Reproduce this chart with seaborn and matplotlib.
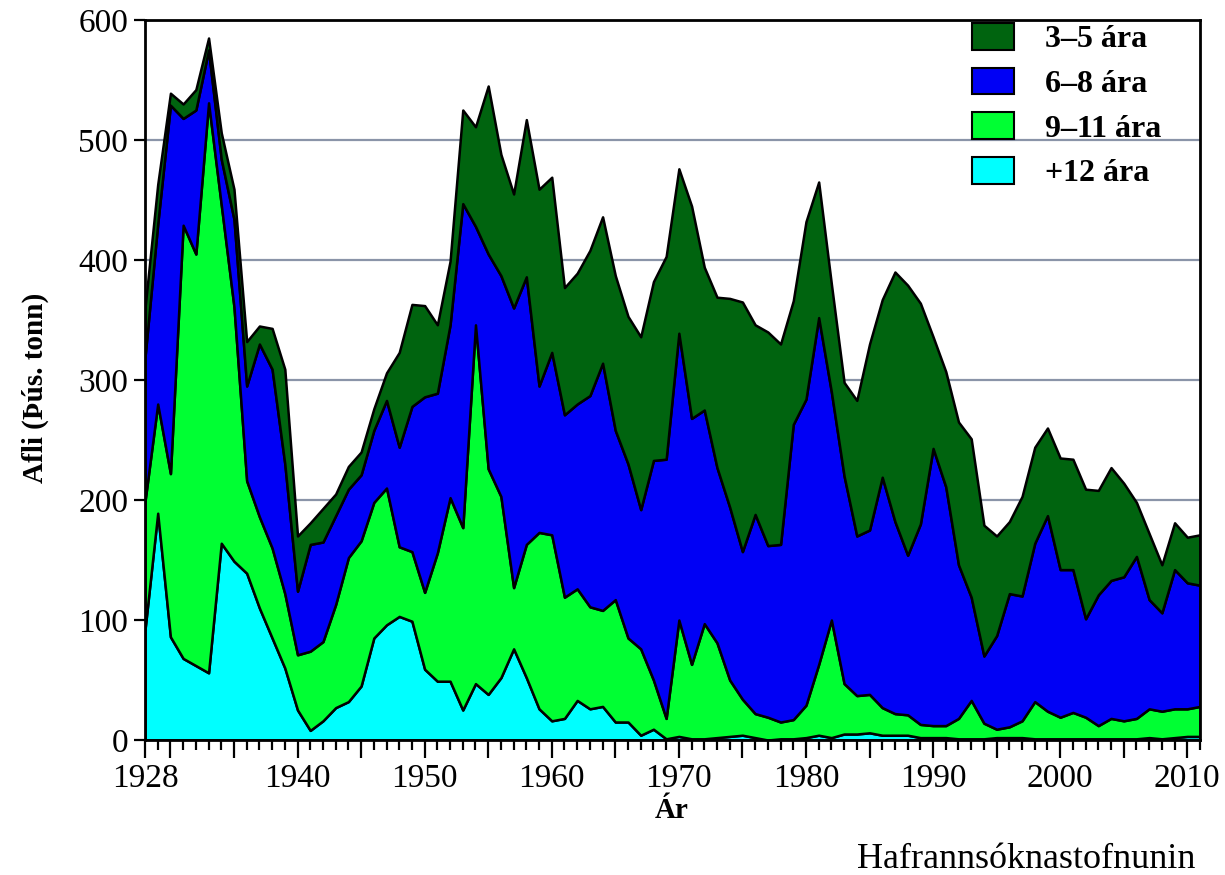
import matplotlib
matplotlib.use("Agg")
import matplotlib.pyplot as plt
from matplotlib.patches import Patch
from matplotlib.ticker import MultipleLocator, FixedLocator
import seaborn as sns

# Afli eftir aldursflokkum (þús. tonn), lesið af myndinni
years = list(range(1928, 2012))

plus12 = [92, 189, 86, 68, 62, 56, 164, 149, 139, 110, 85, 60, 25, 8, 16, 27, 32, 45, 85, 96,
          103, 99, 59, 49, 49, 25, 47, 38, 52, 76, 52, 26, 16, 18, 33, 26, 28, 15, 15, 4,
          9, 1, 3, 1, 1, 2, 3, 4, 2, 0, 1, 1, 2, 4, 2, 5, 5, 6, 4, 4,
          4, 2, 2, 2, 1, 1, 1, 2, 2, 2, 1, 1, 1, 1, 1, 1, 1, 1, 1, 2,
          1, 2, 3, 3]
age9_11 = [107, 91, 136, 361, 343, 475, 282, 212, 77, 76, 75, 62, 46, 66, 66, 86, 120, 121, 113, 114,
           58, 58, 64, 107, 153, 152, 299, 188, 151, 51, 111, 147, 155, 101, 93, 85, 80, 102, 70, 72,
           41, 17, 97, 62, 96, 79, 47, 30, 20, 19, 14, 16, 27, 59, 98, 42, 32, 32, 23, 18,
           17, 11, 10, 10, 17, 32, 13, 7, 9, 14, 31, 23, 18, 22, 18, 11, 17, 15, 17, 24,
           23, 24, 23, 25]
age6_8 = [120, 150, 307, 89, 120, 44, 38, 73, 79, 144, 149, 108, 53, 89, 83, 74, 57, 55, 60, 73,
          83, 121, 163, 133, 144, 270, 82, 179, 184, 233, 223, 122, 152, 152, 154, 176, 206, 141, 145, 116,
          183, 216, 239, 205, 178, 146, 144, 123, 166, 143, 148, 246, 255, 289, 190, 173, 133, 137, 192, 160,
          133, 167, 231, 199, 128, 86, 56, 78, 111, 104, 132, 163, 123, 119, 82, 109, 115, 120, 135, 91,
          82, 116, 105, 101]
age3_5 = [41, 33, 10, 12, 17, 10, 22, 25, 37, 15, 34, 79, 46, 18, 28, 18, 19, 19, 18, 23,
          79, 85, 76, 57, 53, 78, 83, 140, 101, 95, 131, 164, 146, 106, 109, 121, 122, 129, 123, 144,
          149, 169, 137, 177, 119, 142, 174, 208, 158, 178, 167, 103, 148, 113, 90, 78, 113, 155, 148, 208,
          225, 184, 93, 96, 119, 132, 109, 83, 60, 83, 80, 73, 93, 92, 108, 87, 94, 78, 45, 55,
          40, 39, 38, 42]

labels = ["+12 ára", "9\u201311 ára", "6\u20138 ára", "3\u20135 ára"]
colors = ["#00ffff", "#00ff33", "#0000f5", "#00640f"]
tick_years = [1928, 1940, 1950, 1960, 1970, 1980, 1990, 2000, 2010]

sns.set_style("ticks")
plt.rcParams["font.family"] = ["Liberation Serif", "DejaVu Serif"]
plt.rcParams["text.color"] = "black"
plt.rcParams["axes.labelcolor"] = "black"
plt.rcParams["axes.linewidth"] = 2
plt.rcParams["xtick.major.width"] = 1.6
plt.rcParams["xtick.minor.width"] = 1.6
plt.rcParams["ytick.major.width"] = 1.6
plt.rcParams["xtick.color"] = "black"
plt.rcParams["ytick.color"] = "black"

fig = plt.figure(figsize=(12.25, 8.75), dpi=100)
ax = fig.add_axes([145 / 1225, 1 - 740 / 875, 1055 / 1225, 720 / 875])

ax.stackplot(years, plus12, age9_11, age6_8, age3_5, colors=colors,
             edgecolor="black", linewidth=1.8)

ax.set_xlim(1928, 2011)
ax.set_ylim(0, 600)
ax.yaxis.set_major_locator(MultipleLocator(100))
ax.yaxis.grid(True, color="#8a94a8", linewidth=1.6)
ax.set_axisbelow(True)

major = [1928] + list(range(1930, 2011, 5))
ax.xaxis.set_major_locator(FixedLocator(major))
ax.set_xticklabels([str(y) if y in tick_years else "" for y in major])
ax.xaxis.set_minor_locator(MultipleLocator(1))
ax.tick_params(axis="x", which="major", length=13, pad=4, labelsize=24)
ax.tick_params(axis="x", which="minor", length=7)
ax.tick_params(axis="y", which="major", length=8, pad=4, labelsize=24)

for s in ax.spines.values():
    s.set_visible(True)
    s.set_color("black")

fig.text(35 / 1225, 1 - 388 / 875, "Afli (Þús. tonn)", rotation=90,
         ha="center", va="center", fontsize=21, fontweight="bold")
fig.text(672 / 1225, 1 - 810 / 875, "Ár", ha="center", va="center",
         fontsize=21, fontweight="bold")
fig.text(1195 / 1225, 1 - 868 / 875, "Hafrannsóknastofnunin", ha="right",
         va="baseline", fontsize=26, color="black")

handles = [Patch(facecolor=c, edgecolor="black", linewidth=1.5) for c in colors]
leg = ax.legend(handles[::-1], labels[::-1], loc="upper left",
                bbox_to_anchor=((972 - 145) / 1055, (740 - 23) / 720),
                frameon=False, borderpad=0, borderaxespad=0,
                handlelength=1.3, handleheight=0.9, handletextpad=1.0,
                labelspacing=0.42, prop={"weight": "bold", "size": 23})
for t in leg.get_texts():
    t.set_color("black")

fig.savefig("out.png", dpi=100)
